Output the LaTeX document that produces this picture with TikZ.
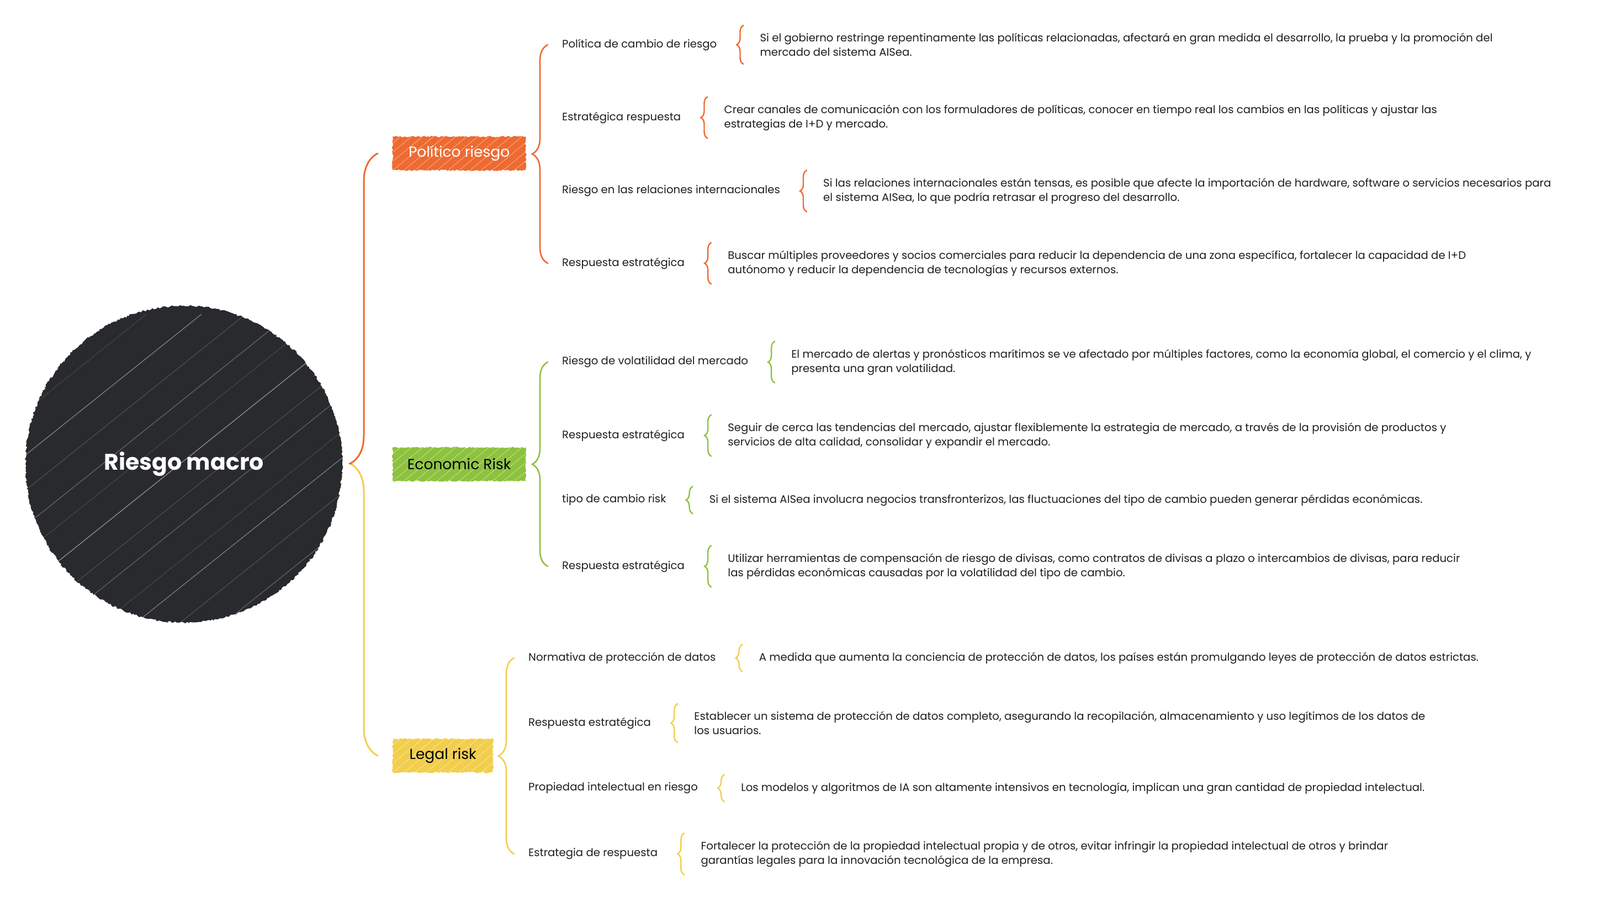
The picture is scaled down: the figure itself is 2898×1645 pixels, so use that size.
\documentclass[tikz,border=0pt]{standalone}
\usepackage{fontspec}
\setmainfont{Poppins}
\usetikzlibrary{positioning, decorations.pathreplacing, decorations.pathmorphing}
\definecolor{polorange}{RGB}{238, 106, 48}
\definecolor{ecogreen}{RGB}{141, 194, 62}
\definecolor{legyellow}{RGB}{242, 206, 76}
\definecolor{coredark}{RGB}{41, 42, 46}
\definecolor{inktext}{RGB}{30, 30, 30}
\tikzset{
  core/.style={circle, fill=coredark, minimum size=574pt, text=white,
               font=\fontsize{41}{46}\selectfont\bfseries, decorate,
               decoration={random steps, segment length=3pt, amplitude=1.6pt},
               path picture={
                 \foreach \k/\o in {-28/0.3, -24/0.15, -19/0.5, -15/0.2, -11/0.35,
                                    -8/0.15, -4/0.6, 0/0.2, 3/0.3, 7/0.15,
                                    10/0.45, 14/0.2, 18/0.3, 22/0.15, 26/0.4}
                   \draw[white, opacity=\o, line width=1pt]
                     ([xshift=\k*20pt]path picture bounding box.south west)
                     -- ++(700pt,560pt);}},
  topic/.style={fill=#1, minimum height=61pt, inner xsep=10pt,
                font=\fontsize{26.5}{30}\selectfont, anchor=west, decorate,
                decoration={random steps, segment length=3pt, amplitude=1.4pt},
                path picture={
                  \foreach \k in {-4,...,14}
                    \draw[white, opacity=0.5, line width=0.8pt]
                      ([xshift=\k*20pt]path picture bounding box.south west)
                      -- ++(75pt,62pt);}},
  sub/.style={anchor=west, font=\fontsize{19.7}{26}\selectfont, text=inktext,
              inner sep=2pt},
  leaf/.style={align=left, font=\fontsize{19.7}{26}\selectfont, text=inktext,
               inner xsep=2pt, inner ysep=14pt},
  bigbrace/.style={draw=#1, line width=3pt, line cap=round, decorate,
                   decoration={brace, amplitude=50pt, aspect=0.485}},
  grpbrace/.style={draw=#1, line width=2.6pt, line cap=round, decorate,
                   decoration={brace, amplitude=28pt}},
  leafbrace/.style={draw=#1, line width=2.4pt, line cap=round, decorate,
                    decoration={brace, amplitude=12pt}},
}

\begin{document}
\begin{tikzpicture}[x=1pt, y=-1pt]
  \useasboundingbox (0,0) rectangle (2898,1645);

  % central topic
  \node[core] (core) at (333,841) {Riesgo macro};

  % main topics
  \node[topic=polorange, text=white, minimum width=241pt] (pol) at (711,278)
    {Político riesgo};
  \node[topic=ecogreen, text=black, minimum width=241pt] (eco) at (711,841)
    {Economic Risk};
  \node[topic=legyellow, text=black, minimum width=182pt] (leg) at (711,1369)
    {Legal risk};

  % root brace: orange above the tip, yellow below
  \begin{scope}
    \clip (560,0) rectangle (720,841);
    \draw[bigbrace=polorange] ([xshift=-27pt]leg.west) -- ([xshift=-27pt]pol.west);
  \end{scope}
  \begin{scope}
    \clip (560,841) rectangle (720,1645);
    \draw[bigbrace=legyellow] ([xshift=-27pt]leg.west) -- ([xshift=-27pt]pol.west);
  \end{scope}

  % ---- Político riesgo ----
  \node[sub] (p1) at (1016,81) {Política de cambio de riesgo};
  \node[sub] (p2) at (1016,213) {Estratégica respuesta};
  \node[sub] (p3) at (1016,346) {Riesgo en las relaciones internacionales};
  \node[sub] (p4) at (1016,477) {Respuesta estratégica};
  \draw[grpbrace=polorange] ([xshift=-24pt]p4.west) -- ([xshift=-24pt]p1.west);

  \node[leaf, right=74pt of p1] (p1t)
    {Si el gobierno restringe repentinamente las políticas relacionadas, afectará en gran medida el desarrollo, la prueba y la promoción del\\
     mercado del sistema AISea.};
  \node[leaf, right=74pt of p2] (p2t)
    {Crear canales de comunicación con los formuladores de políticas, conocer en tiempo real los cambios en las políticas y ajustar las\\
     estrategias de I+D y mercado.};
  \node[leaf, right=74pt of p3] (p3t)
    {Si las relaciones internacionales están tensas, es posible que afecte la importación de hardware, software o servicios necesarios para\\
     el sistema AISea, lo que podría retrasar el progreso del desarrollo.};
  \node[leaf, right=74pt of p4] (p4t)
    {Buscar múltiples proveedores y socios comerciales para reducir la dependencia de una zona específica, fortalecer la capacidad de I+D\\
     autónomo y reducir la dependencia de tecnologías y recursos externos.};
  \foreach \n in {p1t, p2t, p3t, p4t}
    \draw[leafbrace=polorange] ([xshift=-28pt]\n.south west) -- ([xshift=-28pt]\n.north west);

  % ---- Economic Risk ----
  \node[sub] (e1) at (1016,656) {Riesgo de volatilidad del mercado};
  \node[sub] (e2) at (1016,789) {Respuesta estratégica};
  \node[sub] (e3) at (1016,906) {tipo de cambio risk};
  \node[sub] (e4) at (1016,1026) {Respuesta estratégica};
  \draw[grpbrace=ecogreen] ([xshift=-24pt]e4.west) -- ([xshift=-24pt]e1.west);

  \node[leaf, right=74pt of e1] (e1t)
    {El mercado de alertas y pronósticos marítimos se ve afectado por múltiples factores, como la economía global, el comercio y el clima, y\\
     presenta una gran volatilidad.};
  \node[leaf, right=74pt of e2] (e2t)
    {Seguir de cerca las tendencias del mercado, ajustar flexiblemente la estrategia de mercado, a través de la provisión de productos y\\
     servicios de alta calidad, consolidar y expandir el mercado.};
  \node[leaf, right=74pt of e3] (e3t)
    {Si el sistema AISea involucra negocios transfronterizos, las fluctuaciones del tipo de cambio pueden generar pérdidas económicas.};
  \node[leaf, right=74pt of e4] (e4t)
    {Utilizar herramientas de compensación de riesgo de divisas, como contratos de divisas a plazo o intercambios de divisas, para reducir\\
     las pérdidas económicas causadas por la volatilidad del tipo de cambio.};
  \foreach \n in {e1t, e2t, e3t, e4t}
    \draw[leafbrace=ecogreen] ([xshift=-28pt]\n.south west) -- ([xshift=-28pt]\n.north west);

  % ---- Legal risk ----
  \node[sub] (l1) at (955,1192) {Normativa de protección de datos};
  \node[sub] (l2) at (955,1310) {Respuesta estratégica};
  \node[sub] (l3) at (955,1428) {Propiedad intelectual en riesgo};
  \node[sub] (l4) at (955,1547) {Estrategia de respuesta};
  \draw[grpbrace=legyellow] ([xshift=-24pt]l4.west) -- ([xshift=-24pt]l1.west);

  \node[leaf, right=74pt of l1] (l1t)
    {A medida que aumenta la conciencia de protección de datos, los países están promulgando leyes de protección de datos estrictas.};
  \node[leaf, right=74pt of l2] (l2t)
    {Establecer un sistema de protección de datos completo, asegurando la recopilación, almacenamiento y uso legítimos de los datos de\\
     los usuarios.};
  \node[leaf, right=74pt of l3] (l3t)
    {Los modelos y algoritmos de IA son altamente intensivos en tecnología, implican una gran cantidad de propiedad intelectual.};
  \node[leaf, right=74pt of l4] (l4t)
    {Fortalecer la protección de la propiedad intelectual propia y de otros, evitar infringir la propiedad intelectual de otros y brindar\\
     garantías legales para la innovación tecnológica de la empresa.};
  \foreach \n in {l1t, l2t, l3t, l4t}
    \draw[leafbrace=legyellow] ([xshift=-28pt]\n.south west) -- ([xshift=-28pt]\n.north west);
\end{tikzpicture}
\end{document}
